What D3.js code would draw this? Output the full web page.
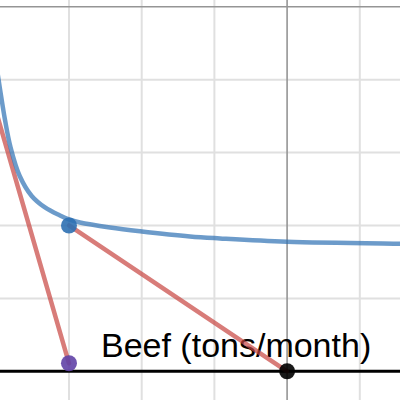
<!DOCTYPE html>
<html>
<head>
<meta charset="utf-8">
<script src="https://cdn.jsdelivr.net/npm/d3@7"></script>
<style>
  html, body { margin: 0; padding: 0; background: #fff; }
  svg { display: block; }
</style>
</head>
<body>
<svg id="chart" width="400" height="400"></svg>
<script>
// ---- data (grid units) ----
const xGridTicks = [0, 1, 2, 3, 4];
const yGridTicks = [0, 1, 2, 3, 4, 5];
const darkXTicks = [3];
const darkYTicks = [5];

// indifference-type curve (blue)
const curveX = [-0.990, -0.949, -0.880, -0.805, -0.678, -0.513, -0.330, -0.124, 0, 0.151, 0.564, 0.977, 1.664, 2.077, 2.999, 4.553, 4.7];
const curveY = [4.14, 3.872, 3.447, 3.077, 2.679, 2.405, 2.247, 2.137, 2.083, 2.041, 1.973, 1.921, 1.849, 1.822, 1.776, 1.749, 1.747];

// red segments
const redLine1X = [-1.2, 0];
const redLine1Y = [4.24, 0.11];
const redLine2X = [0, 3];
const redLine2Y = [2, 0];

// points
const pointNames = ["blue", "purple", "black"];
const pointX = [0, 0, 3];
const pointY = [2, 0.11, 0];

const labelText = "Beef (tons/month)";
const labelX = 0.44;
const labelY = 0.20;

// ---- drawing ----
const W = 400, H = 400;
const x = d3.scaleLinear().domain([-0.949, 4.553]).range([0, W]);
const y = d3.scaleLinear().domain([-0.394, 5.093]).range([H, 0]);

const svg = d3.select("#chart");

// light grid
svg.append("g").selectAll("line").data(xGridTicks.filter(d => !darkXTicks.includes(d)))
  .join("line")
  .attr("x1", d => x(d)).attr("x2", d => x(d))
  .attr("y1", 0).attr("y2", H)
  .attr("stroke", "#e0e0e0").attr("stroke-width", 2);
svg.append("g").selectAll("line").data(yGridTicks.filter(d => d !== 0 && !darkYTicks.includes(d)))
  .join("line")
  .attr("x1", 0).attr("x2", W)
  .attr("y1", d => y(d)).attr("y2", d => y(d))
  .attr("stroke", "#e0e0e0").attr("stroke-width", 2);

// darker lines
svg.append("g").selectAll("line").data(darkXTicks)
  .join("line")
  .attr("x1", d => x(d)).attr("x2", d => x(d))
  .attr("y1", 0).attr("y2", H)
  .attr("stroke", "#959595").attr("stroke-width", 1.6);
svg.append("g").selectAll("line").data(darkYTicks)
  .join("line")
  .attr("x1", 0).attr("x2", W)
  .attr("y1", d => y(d)).attr("y2", d => y(d))
  .attr("stroke", "#959595").attr("stroke-width", 1.6);

// black x axis line
svg.append("line")
  .attr("x1", 0).attr("x2", W)
  .attr("y1", y(0)).attr("y2", y(0))
  .attr("stroke", "#000").attr("stroke-width", 3);

// label
svg.append("text")
  .attr("x", x(labelX)).attr("y", y(labelY))
  .attr("font-family", "'Liberation Sans', Arial, sans-serif")
  .attr("font-size", 34)
  .attr("fill", "#000")
  .text(labelText);

// red segments
const line = d3.line().x(d => x(d[0])).y(d => y(d[1]));
[[redLine1X, redLine1Y], [redLine2X, redLine2Y]].forEach(([xs, ys]) => {
  svg.append("path")
    .attr("d", line(d3.zip(xs, ys)))
    .attr("fill", "none")
    .attr("stroke", "#c74440")
    .attr("stroke-opacity", 0.7)
    .attr("stroke-width", 4.5)
    .attr("stroke-linecap", "round");
});

// blue curve
const curveLine = d3.line().x(d => x(d[0])).y(d => y(d[1])).curve(d3.curveCatmullRom.alpha(0.5));
svg.append("path")
  .attr("d", curveLine(d3.zip(curveX, curveY)))
  .attr("fill", "none")
  .attr("stroke", "#2d70b3")
  .attr("stroke-opacity", 0.7)
  .attr("stroke-width", 4.5);

// points
const pointColor = { blue: "#2d70b3", purple: "#6042a6", black: "#000000" };
svg.append("g").selectAll("circle").data(d3.zip(pointNames, pointX, pointY))
  .join("circle")
  .attr("cx", d => x(d[1])).attr("cy", d => y(d[2]))
  .attr("r", 8)
  .attr("fill", d => pointColor[d[0]])
  .attr("fill-opacity", 0.9);
</script>
</body>
</html>
